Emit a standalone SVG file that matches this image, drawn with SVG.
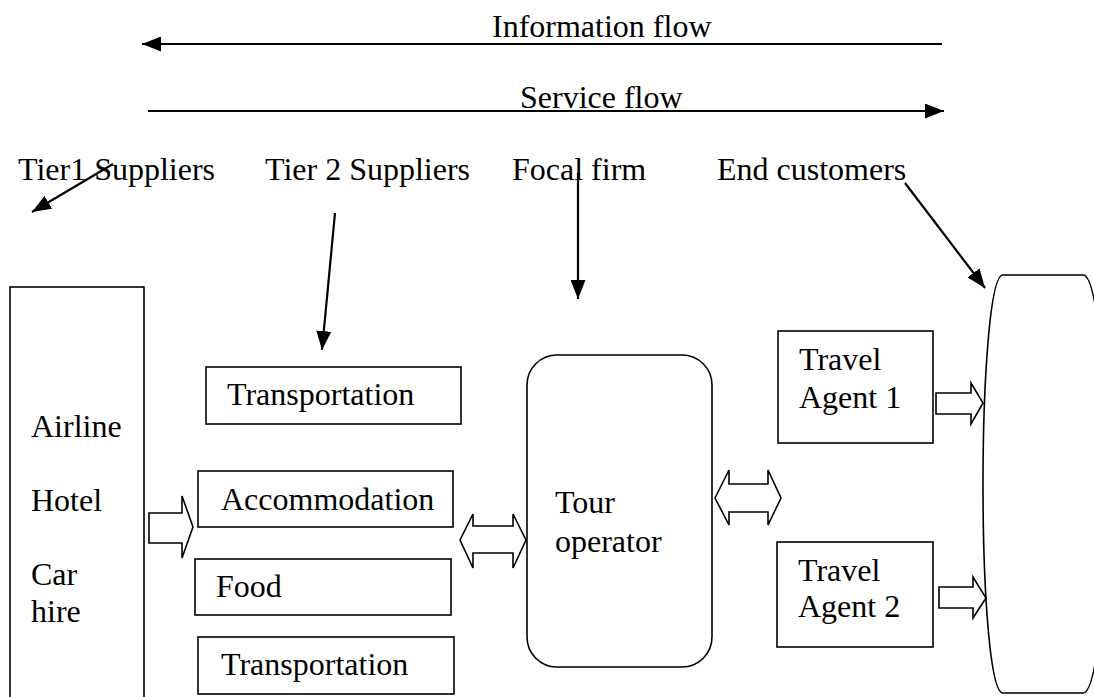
<svg xmlns="http://www.w3.org/2000/svg" width="1094" height="697" viewBox="0 0 1094 697">
<style>
text{font-family:"Liberation Serif","Times New Roman",serif;font-size:32px;fill:#000}
.box{fill:#fff;stroke:#000;stroke-width:1.6}
.ln{stroke:#000;stroke-width:2.2;fill:none}
.blk{fill:#fff;stroke:#000;stroke-width:1.6;stroke-linejoin:miter}
</style>
<defs>
<marker id="ahb" viewBox="0 0 10 10" refX="10" refY="5" markerWidth="19" markerHeight="15" preserveAspectRatio="none" markerUnits="userSpaceOnUse" orient="auto">
<path d="M0,0 L10,5 L0,10 Z" fill="#000"/>
</marker>
</defs>
<rect width="1094" height="697" fill="#fff"/>

<g id="flows">
<text x="492" y="37">Information flow</text>
<text x="520" y="108">Service flow</text>
</g>

<g id="labels">
<text x="18" y="180">Tier1 Suppliers</text>
<text x="265" y="180">Tier 2 Suppliers</text>
<text x="512" y="180">Focal firm</text>
<text x="717" y="180">End customers</text>
</g>

<g id="tier1">
<rect class="box" x="10" y="287" width="134" height="420"/>
<text x="31" y="437">Airline</text>
<text x="31" y="511">Hotel</text>
<text x="31" y="585">Car</text>
<text x="31" y="622">hire</text>
</g>

<g id="transport1">
<rect class="box" x="206" y="367" width="255" height="57"/>
<text x="227" y="405">Transportation</text>
</g>
<g id="accommodation">
<rect class="box" x="198" y="471" width="255" height="56"/>
<text x="221" y="510">Accommodation</text>
</g>
<g id="food">
<rect class="box" x="195" y="559" width="256" height="56"/>
<text x="216" y="597">Food</text>
</g>
<g id="transport2">
<rect class="box" x="198" y="637" width="256" height="57"/>
<text x="221" y="675">Transportation</text>
</g>

<g id="tour-operator">
<rect class="box" x="527" y="355" width="185" height="312" rx="30" ry="30"/>
<text x="555" y="513">Tour</text>
<text x="555" y="552">operator</text>
</g>

<g id="agent1">
<rect class="box" x="778" y="331" width="155" height="112"/>
<text x="799" y="370">Travel</text>
<text x="799" y="408">Agent 1</text>
</g>
<g id="agent2">
<rect class="box" x="777" y="542" width="156" height="105"/>
<text x="798" y="581">Travel</text>
<text x="798" y="617">Agent 2</text>
</g>

<g id="end-customers">
<path class="box" d="M1003,275 L1083,275 C1097,275 1106,380 1106,485 C1106,590 1097,693 1083,693 L1003,693 C990,693 983,590 983,485 C983,380 990,275 1003,275 Z"/>
</g>

<g id="connectors">
<line class="ln" x1="942" y1="44" x2="142" y2="44" marker-end="url(#ahb)"/>
<line class="ln" x1="148" y1="111" x2="944" y2="111" marker-end="url(#ahb)"/>
<line class="ln" x1="113" y1="164" x2="32" y2="212" marker-end="url(#ahb)"/>
<line class="ln" x1="335" y1="213" x2="322" y2="350" marker-end="url(#ahb)"/>
<line class="ln" x1="578" y1="173" x2="578" y2="299" marker-end="url(#ahb)"/>
<line class="ln" x1="905" y1="183" x2="985" y2="288" marker-end="url(#ahb)"/>
<path class="blk" d="M149,513 L182,513 L182,496 L193,527 L182,558 L182,543 L149,543 Z"/>
<path class="blk" d="M460,540 L473,514 L473,526 L513,526 L513,514 L526,540 L513,568 L513,553 L473,553 L473,568 Z"/>
<path class="blk" d="M715,498 L729,470 L729,484 L768,484 L768,470 L781,498 L768,525 L768,512 L729,512 L729,525 Z"/>
<path class="blk" d="M936,393 L971,393 L971,383 L983,403 L971,424 L971,414 L936,414 Z"/>
<path class="blk" d="M939,587 L973,587 L973,577 L986,598 L973,618 L973,608 L939,608 Z"/>
</g>
</svg>
